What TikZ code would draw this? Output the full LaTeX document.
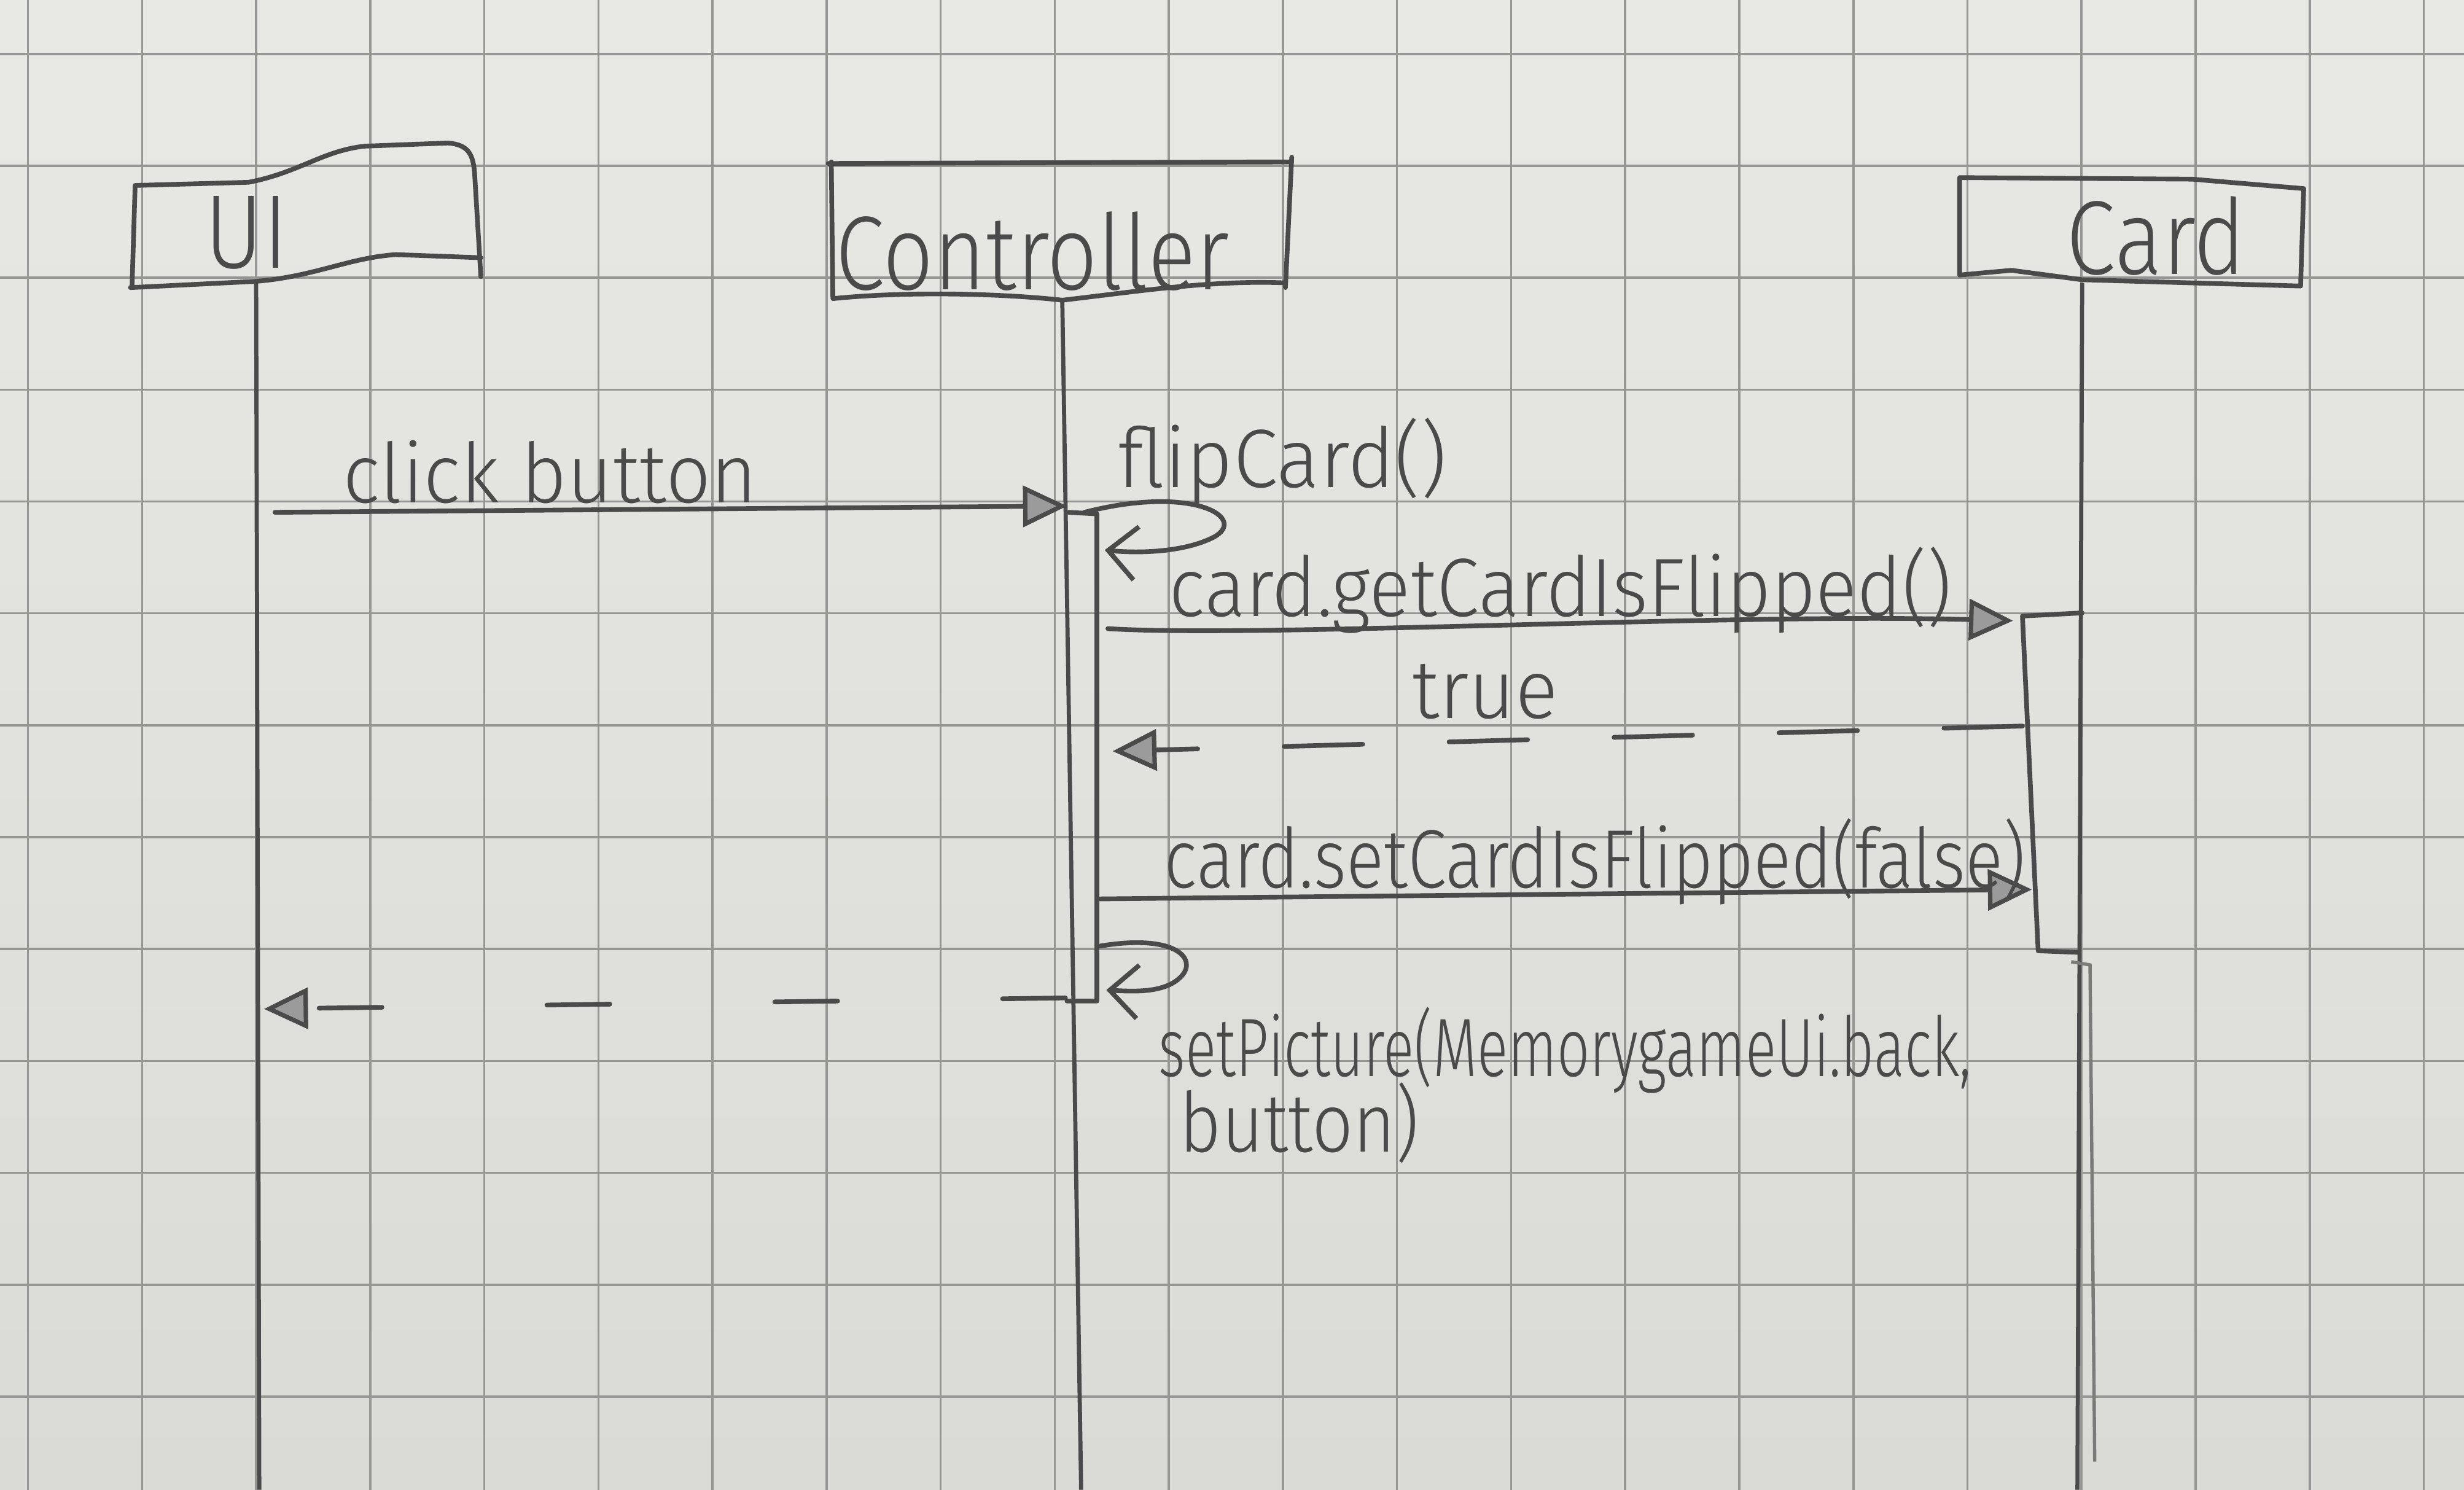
\documentclass[tikz,border=0pt]{standalone}
\usepackage{fontspec}
\setmainfont{Fira Sans}
\newfontfamily\handfont{Fira Sans Light}
\usetikzlibrary{arrows.meta}
\definecolor{paperlight}{RGB}{232,232,229}
\definecolor{paperdark}{RGB}{218,218,215}
\definecolor{gridgray}{RGB}{150,150,148}
\definecolor{pencil}{RGB}{74,74,74}
\definecolor{pencilsoft}{RGB}{122,122,120}
\tikzset{
  gridrule/.style={gridgray, line width=0.4pt},
  sketch/.style={pencil, line width=0.85pt, line cap=round, line join=round},
  lifeline/.style={pencil, line width=0.75pt},
  handtext/.style={text=pencil, inner sep=0pt, font=\handfont\fontsize{15}{18}\selectfont, xscale=0.9},
  headtext/.style={text=pencil, inner sep=0pt, font=\handfont\fontsize{19}{22}\selectfont, xscale=0.85},
  hatchtip/.tip={Triangle[length=2.8mm, width=2.6mm, fill=pencil!55, line width=0.8pt]},
  msg/.style={sketch, -{hatchtip}},
  reply/.style={sketch, -{hatchtip}},
  selfcall/.style={sketch, -{Straight Barb[length=1.8mm, width=3.4mm]}},
}
\begin{document}
\begin{tikzpicture}[x=0.1mm, y=-0.1mm]
\useasboundingbox (0,0) rectangle (1568,948);
% squared paper
\shade[top color=paperlight, bottom color=paperdark] (0,0) rectangle (1568,948);
\foreach \k in {-2,...,19} \draw[gridrule] ({163+72.6*\k},0) -- ({163+72.6*\k},948);
\foreach \k in {-1,...,11} \draw[gridrule] (0,{105.5+71.2*\k}) -- (1568,{105.5+71.2*\k});

% participant boxes
\draw[sketch] (84,183) -- (86,118) -- (158,116) .. controls (190,110) and (205,96) .. (232,93)
  -- (285,91) .. controls (298,92) and (301,98) .. (302,110) -- (306,176);
\draw[sketch] (83,183) -- (163,179) .. controls (200,176) and (222,164) .. (252,162) -- (306,164);
\draw[sketch] (527,104) -- (822,103);
\draw[sketch] (529,103) -- (530,190) .. controls (580,185) and (640,187) .. (676,191)
  .. controls (720,186) and (770,178) .. (818,180);
\draw[sketch] (822,100) -- (818,183);
\draw[sketch] (1247,113) -- (1395,114) -- (1466,120) -- (1464,182) -- (1325,178)
  -- (1280,172) -- (1247,175) -- cycle;

\node[headtext] (ui) at (157,148) {UI};
\node[headtext] (ctrl) at (657,160) {Controller};
\node[headtext] (card) at (1372,150) {Card};

% lifelines
\coordinate (uiTop) at (163,180);    \coordinate (uiEnd) at (165,948);
\coordinate (ctrlTop) at (676,191);  \coordinate (ctrlEnd) at (688,948);
\coordinate (cardTop) at (1325,180); \coordinate (cardEnd) at (1322,948);
\draw[lifeline] (uiTop) -- (uiEnd);
\draw[lifeline] (ctrlTop) -- (ctrlEnd);
\draw[lifeline] (cardTop) -- (cardEnd);

% activation bars
\draw[sketch] (680,326) -- (698,327) -- (698,637) -- (679,637);
\draw[sketch] (1325,390) -- (1287,392) -- (1297,605) -- (1322,606);
\draw[pencilsoft, line width=0.6pt] (1318,612) -- (1330,614) -- (1333,930);

% message end points
\coordinate (m1s) at (175,326);  \coordinate (m1e) at (679,322);
\coordinate (s1s) at (690,326);  \coordinate (s1e) at (703,350);
\coordinate (m2s) at (705,400);  \coordinate (m2e) at (1281,395);
\coordinate (r1s) at (1287,462); \coordinate (r1e) at (708,478);
\coordinate (m3s) at (700,572);  \coordinate (m3e) at (1293,566);
\coordinate (s2s) at (700,602);  \coordinate (s2e) at (704,630);
\coordinate (r2s) at (678,635);  \coordinate (r2e) at (168,642);

\draw[msg] (m1s) -- (m1e);
\draw[selfcall] (s1s) .. controls (760,308) and (795,330) .. (772,342)
  .. controls (752,352) and (722,352) .. (s1e);
\draw[msg] (m2s) .. controls (800,406) and (1100,390) .. (m2e);
\draw[reply, dash pattern=on 5mm off 5.5mm] (r1s) -- (r1e);
\draw[msg] (m3s) -- (m3e);
\draw[selfcall] (s2s) .. controls (748,594) and (762,610) .. (752,621)
  .. controls (742,632) and (722,631) .. (s2e);
\draw[reply, dash pattern=on 4mm off 10.5mm] (r2s) -- (r2e);

% message labels
\node[handtext, xscale=1.06, anchor=base] (l1) at (350,320) {click button};
\node[handtext, xscale=1.08, anchor=base] (l2) at (816,310) {flipCard()};
\node[handtext, xscale=1.03, anchor=base] (l3) at (993,392) {card.getCardIsFlipped()};
\node[handtext, xscale=1.07, anchor=base] (l4) at (945,457) {true};
\node[handtext, xscale=0.94, anchor=base] (l5) at (1015,565) {card.setCardIsFlipped(false)};
\node[handtext, xscale=0.77, anchor=base west] (l6) at (737,685) {setPicture(MemorygameUi.back,};
\node[handtext, xscale=0.97, anchor=base west] (l7) at (750,733) {button)};
\end{tikzpicture}
\end{document}
